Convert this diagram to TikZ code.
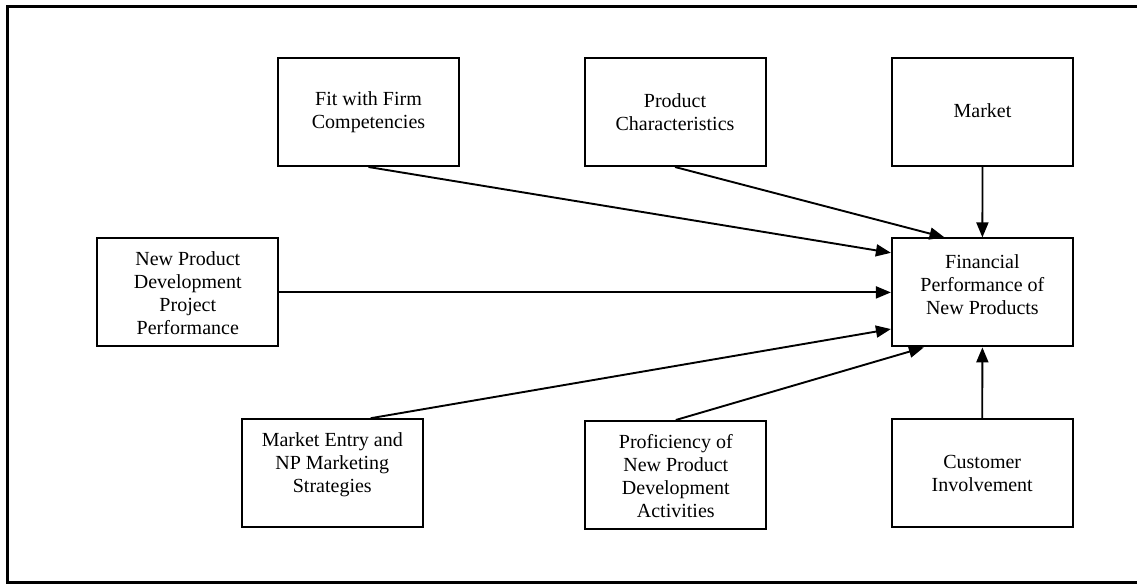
\documentclass[tikz,border=0pt]{standalone}
\usepackage{fontspec}
\setmainfont{Liberation Serif}
\usetikzlibrary{arrows.meta,calc}
\tikzset{
  boxnode/.style={draw, line width=2pt, rectangle, inner sep=0pt,
    minimum width=181pt, minimum height=108pt},
  boxtext/.style={align=center, inner sep=0pt,
    font=\fontsize{20pt}{23pt}\selectfont},
  conn/.style={line width=1.9pt, -{Triangle[length=15pt,width=12pt]}},
  frameline/.style={line width=2.7pt}
}
\begin{document}
\begin{tikzpicture}[x=1pt,y=-1pt]
\useasboundingbox (0,0) rectangle (1137,584);
\clip (0,0) rectangle (1137,584);
% outer frame (right side lies beyond the picture)
\coordinate (ftr) at (1150,6.7);
\coordinate (ftl) at (7.3,6.7);
\coordinate (fbl) at (7.3,582.6);
\coordinate (fbr) at (1150,582.6);
\draw[frameline] (ftr) -- (ftl) -- (fbl) -- (fbr);

% boxes
\node[boxnode] (fit)  at (368.5,112) {};
\node[boxnode] (prod) at (675,112) {};
\node[boxnode] (mkt)  at (982.5,112) {};
\node[boxnode] (npd)  at (187.8,292.4) {};
\node[boxnode] (fin)  at (982.4,292.4) {};
\node[boxnode] (me)   at (332.3,473.2) {};
\node[boxnode] (prof) at (675.8,475) {};
\node[boxnode] (cust) at (982.2,473) {};

% texts
\node[boxtext] (fitT)  at (fit.center)  {Fit with Firm\\Competencies};
\node[boxtext] (prodT) at (prod.center) {Product\\Characteristics};
\node[boxtext] (mktT)  at ([yshift=1pt]mkt.center) {Market};
\node[boxtext] (npdT)  at ([yshift=-1pt]npd.center) {New Product\\Development\\Project\\Performance};
\node[boxtext] (finT)  at ([yshift=8pt]fin.center) {Financial\\Performance of\\New Products};
\node[boxtext] (meT)   at ([yshift=8pt]me.center) {Market Entry and\\NP Marketing\\Strategies};
\node[boxtext] (profT) at ([yshift=-1pt]prof.center) {Proficiency of\\New Product\\Development\\Activities};
\node[boxtext] (custT) at (cust.center) {Customer\\Involvement};

% connectors
\draw[conn] (fit.south) -- ($(fin.north west)!0.14!(fin.south west)$);
\draw[conn] (prod.south) -- ($(fin.north west)!0.293!(fin.north east)$);
\draw[conn] (mkt.south) -- (fin.north);
\draw[conn] (npd.east) -- (fin.west);
\draw[conn] ($(me.north west)!0.71!(me.north east)$) -- ($(fin.north west)!0.833!(fin.south west)$);
\draw[conn] (prof.north) -- ($(fin.south west)!0.18!(fin.south east)$);
\draw[conn] (cust.north) -- (fin.south);
\end{tikzpicture}
\end{document}
